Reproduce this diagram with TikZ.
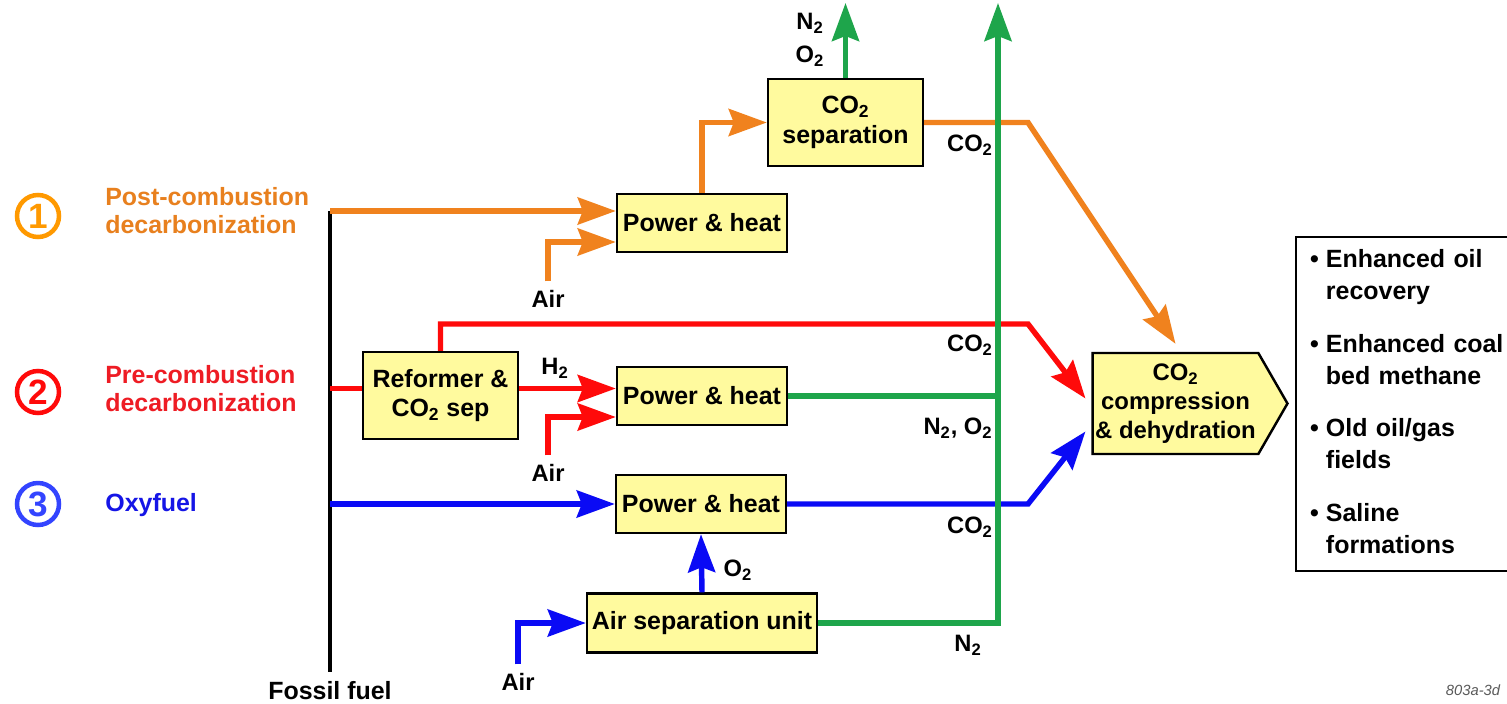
\documentclass[tikz,border=0pt]{standalone}
\usepackage{fontspec}
\setmainfont{Liberation Sans}
\usepackage{xcolor}
\usetikzlibrary{arrows.meta, calc, shapes.symbols}
\definecolor{corange}{HTML}{F0821E}
\definecolor{cred}{HTML}{FF0A0A}
\definecolor{cblue}{HTML}{0A0AF5}
\definecolor{cgreen}{HTML}{1EA54B}
\definecolor{cyellow}{HTML}{FFFA9E}
\definecolor{torange}{HTML}{E8801E}
\definecolor{tred}{HTML}{EE1C24}
\definecolor{tblue}{HTML}{1515E6}
\definecolor{rorange}{HTML}{FF9900}
\definecolor{rblue}{HTML}{3344FF}

\begin{document}
\begin{tikzpicture}[x=0.02cm, y=-0.02cm,
  unit/.style={draw=black, fill=cyellow, line width=1.4pt, align=center, inner sep=0pt,
    font=\bfseries\fontsize{14.2}{17}\selectfont, minimum width=3.4cm, minimum height=1.16cm},
  pipe/.style={line width=3.1pt},
  flow/.style={pipe, -{Stealth[length=0.76cm, width=0.54cm, inset=0.1cm]}},
  lbl/.style={font=\bfseries\fontsize{13.5}{18.7}\selectfont, inner sep=1pt, align=center},
  airlbl/.style={lbl, inner ysep=5pt},
  route/.style={font=\bfseries\fontsize{14.2}{15.9}\selectfont, anchor=west, align=left, inner sep=0pt},
  numring/.style={circle, line width=0.09cm, minimum size=0.84cm, inner sep=0pt,
    font=\bfseries\fontsize{20}{20}\selectfont}]
\useasboundingbox (0,0) rectangle (1507,703);
\fill[white] (0,0) rectangle (1507,703);

% routes
\node[numring, draw=rorange, text=rorange] (ring1) at (38,216) {1};
\node[numring, draw=cred, text=cred] (ring2) at (38,392) {2};
\node[numring, draw=rblue, text=rblue] (ring3) at (38,504) {3};
\node[route, text=torange] (postlbl) at (105,211) {Post-combustion\\decarbonization};
\node[route, text=tred] (prelbl) at (105,389) {Pre-combustion\\decarbonization};
\node[route, text=tblue] (oxylbl) at (105,505) {Oxyfuel};

% fossil fuel
\coordinate (fftop) at (330,211);
\coordinate (ffbot) at (330,672);
\node[lbl, font=\bfseries\fontsize{14.2}{17}\selectfont, anchor=base] (ffuel) at (330,699) {Fossil fuel};
\draw[line width=2.8pt] (fftop) -- (ffbot);

% units
\node[unit] (ph1) at (702,223) {Power \& heat};
\node[unit] (ph2) at (702,396) {Power \& heat};
\node[unit] (ph3) at (701,504) {Power \& heat};
\node[unit, minimum width=3.1cm, minimum height=1.74cm] (sep) at (845.5,122.5) {CO\textsubscript{2}\\separation};
\node[unit, minimum width=3.1cm, minimum height=1.74cm] (ref) at (440.5,395.5) {Reformer \&\\CO\textsubscript{2} sep};
\node[unit, minimum width=4.6cm, minimum height=1.18cm] (asu) at (702,623) {Air separation unit};
\node[unit, shape=signal, signal to=east, signal pointer angle=120, minimum width=0pt,
  font=\bfseries\fontsize{13.6}{16.4}\selectfont, inner xsep=0.05cm, minimum height=2.02cm]
  (comp) at (1175.5,403.5) {CO\textsubscript{2}\\compression\\\& dehydration};

% storage
\node[draw, line width=1.4pt, anchor=north west, inner xsep=0.28cm, minimum height=6.68cm,
  text width=4.4cm, align=left, font=\bfseries\fontsize{14.2}{18.1}\selectfont] (uses) at (1295,236)
  {\begin{tabular}{@{}l@{\hspace{0.14cm}}l@{}}
   \textbullet & Enhanced oil\\
   & recovery\\[0.42cm]
   \textbullet & Enhanced coal\\
   & bed methane\\[0.42cm]
   \textbullet & Old oil/gas\\
   & fields\\[0.42cm]
   \textbullet & Saline\\
   & formations
   \end{tabular}};

% labels
\node[airlbl] (air1) at (548,299) {Air};
\node[airlbl] (air2) at (548,473) {Air};
\node[airlbl] (air3) at (518,682) {Air};
\node[lbl] (h2) at (555,368) {H\textsubscript{2}};
\node[lbl] (o2) at (738,570) {O\textsubscript{2}};
\node[lbl] (sepgas) at (810,40) {N\textsubscript{2}\\O\textsubscript{2}};
\node[lbl] (co2a) at (970,145) {CO\textsubscript{2}};
\node[lbl] (co2b) at (970,345) {CO\textsubscript{2}};
\node[lbl] (noxy) at (958,428) {N\textsubscript{2}, O\textsubscript{2}};
\node[lbl] (co2c) at (970,527) {CO\textsubscript{2}};
\node[lbl] (n2) at (968,645) {N\textsubscript{2}};
\node[font=\itshape\fontsize{8.4}{10}\selectfont, text=black!65] (code) at (1473,690) {803a-3d};

\coordinate (kink) at (1028,0);
\coordinate (redkink) at (1028,324);
\coordinate (gtop) at (998,3);
\coordinate (refin) at ([yshift=0.14cm]ref.west);

% post-combustion
\draw[flow, corange] (fftop) -- (fftop -| ph1.west);
\draw[flow, corange] (air1.north) |- ([yshift=-0.38cm]ph1.west);
\draw[flow, corange] (ph1.north) |- (sep.west);
\draw[flow, corange] (sep.east) -- (sep.east -| kink) -- ([yshift=0.16cm]comp.north);

% pre-combustion
\draw[pipe, cred] (fftop |- refin) -- (refin);
\draw[flow, cred] (ref.east |- refin) -- (ph2.west |- refin);
\draw[flow, cred] (air2.north) |- ([yshift=-0.42cm]ph2.west);
\draw[flow, cred] (ref.north) |- (redkink) -- ([xshift=-0.12cm, yshift=0.1cm]comp.west);

% oxyfuel
\draw[flow, cblue] (fftop |- ph3.west) -- (ph3.west);
\draw[flow, cblue] (air3.north) |- (asu.west);
\draw[flow, cblue] (asu.north) -- (ph3.south);
\draw[flow, cblue] (ph3.east) -- (ph3.east -| kink) -- ([xshift=-0.12cm, yshift=-0.56cm]comp.west);

% vent
\draw[flow, cgreen] (sep.north) -- (sep.north |- gtop);
\draw[pipe, cgreen] (ph2.east) -- (ph2.east -| gtop);
\draw[flow, cgreen] (asu.east) -| (gtop);
\end{tikzpicture}
\end{document}
